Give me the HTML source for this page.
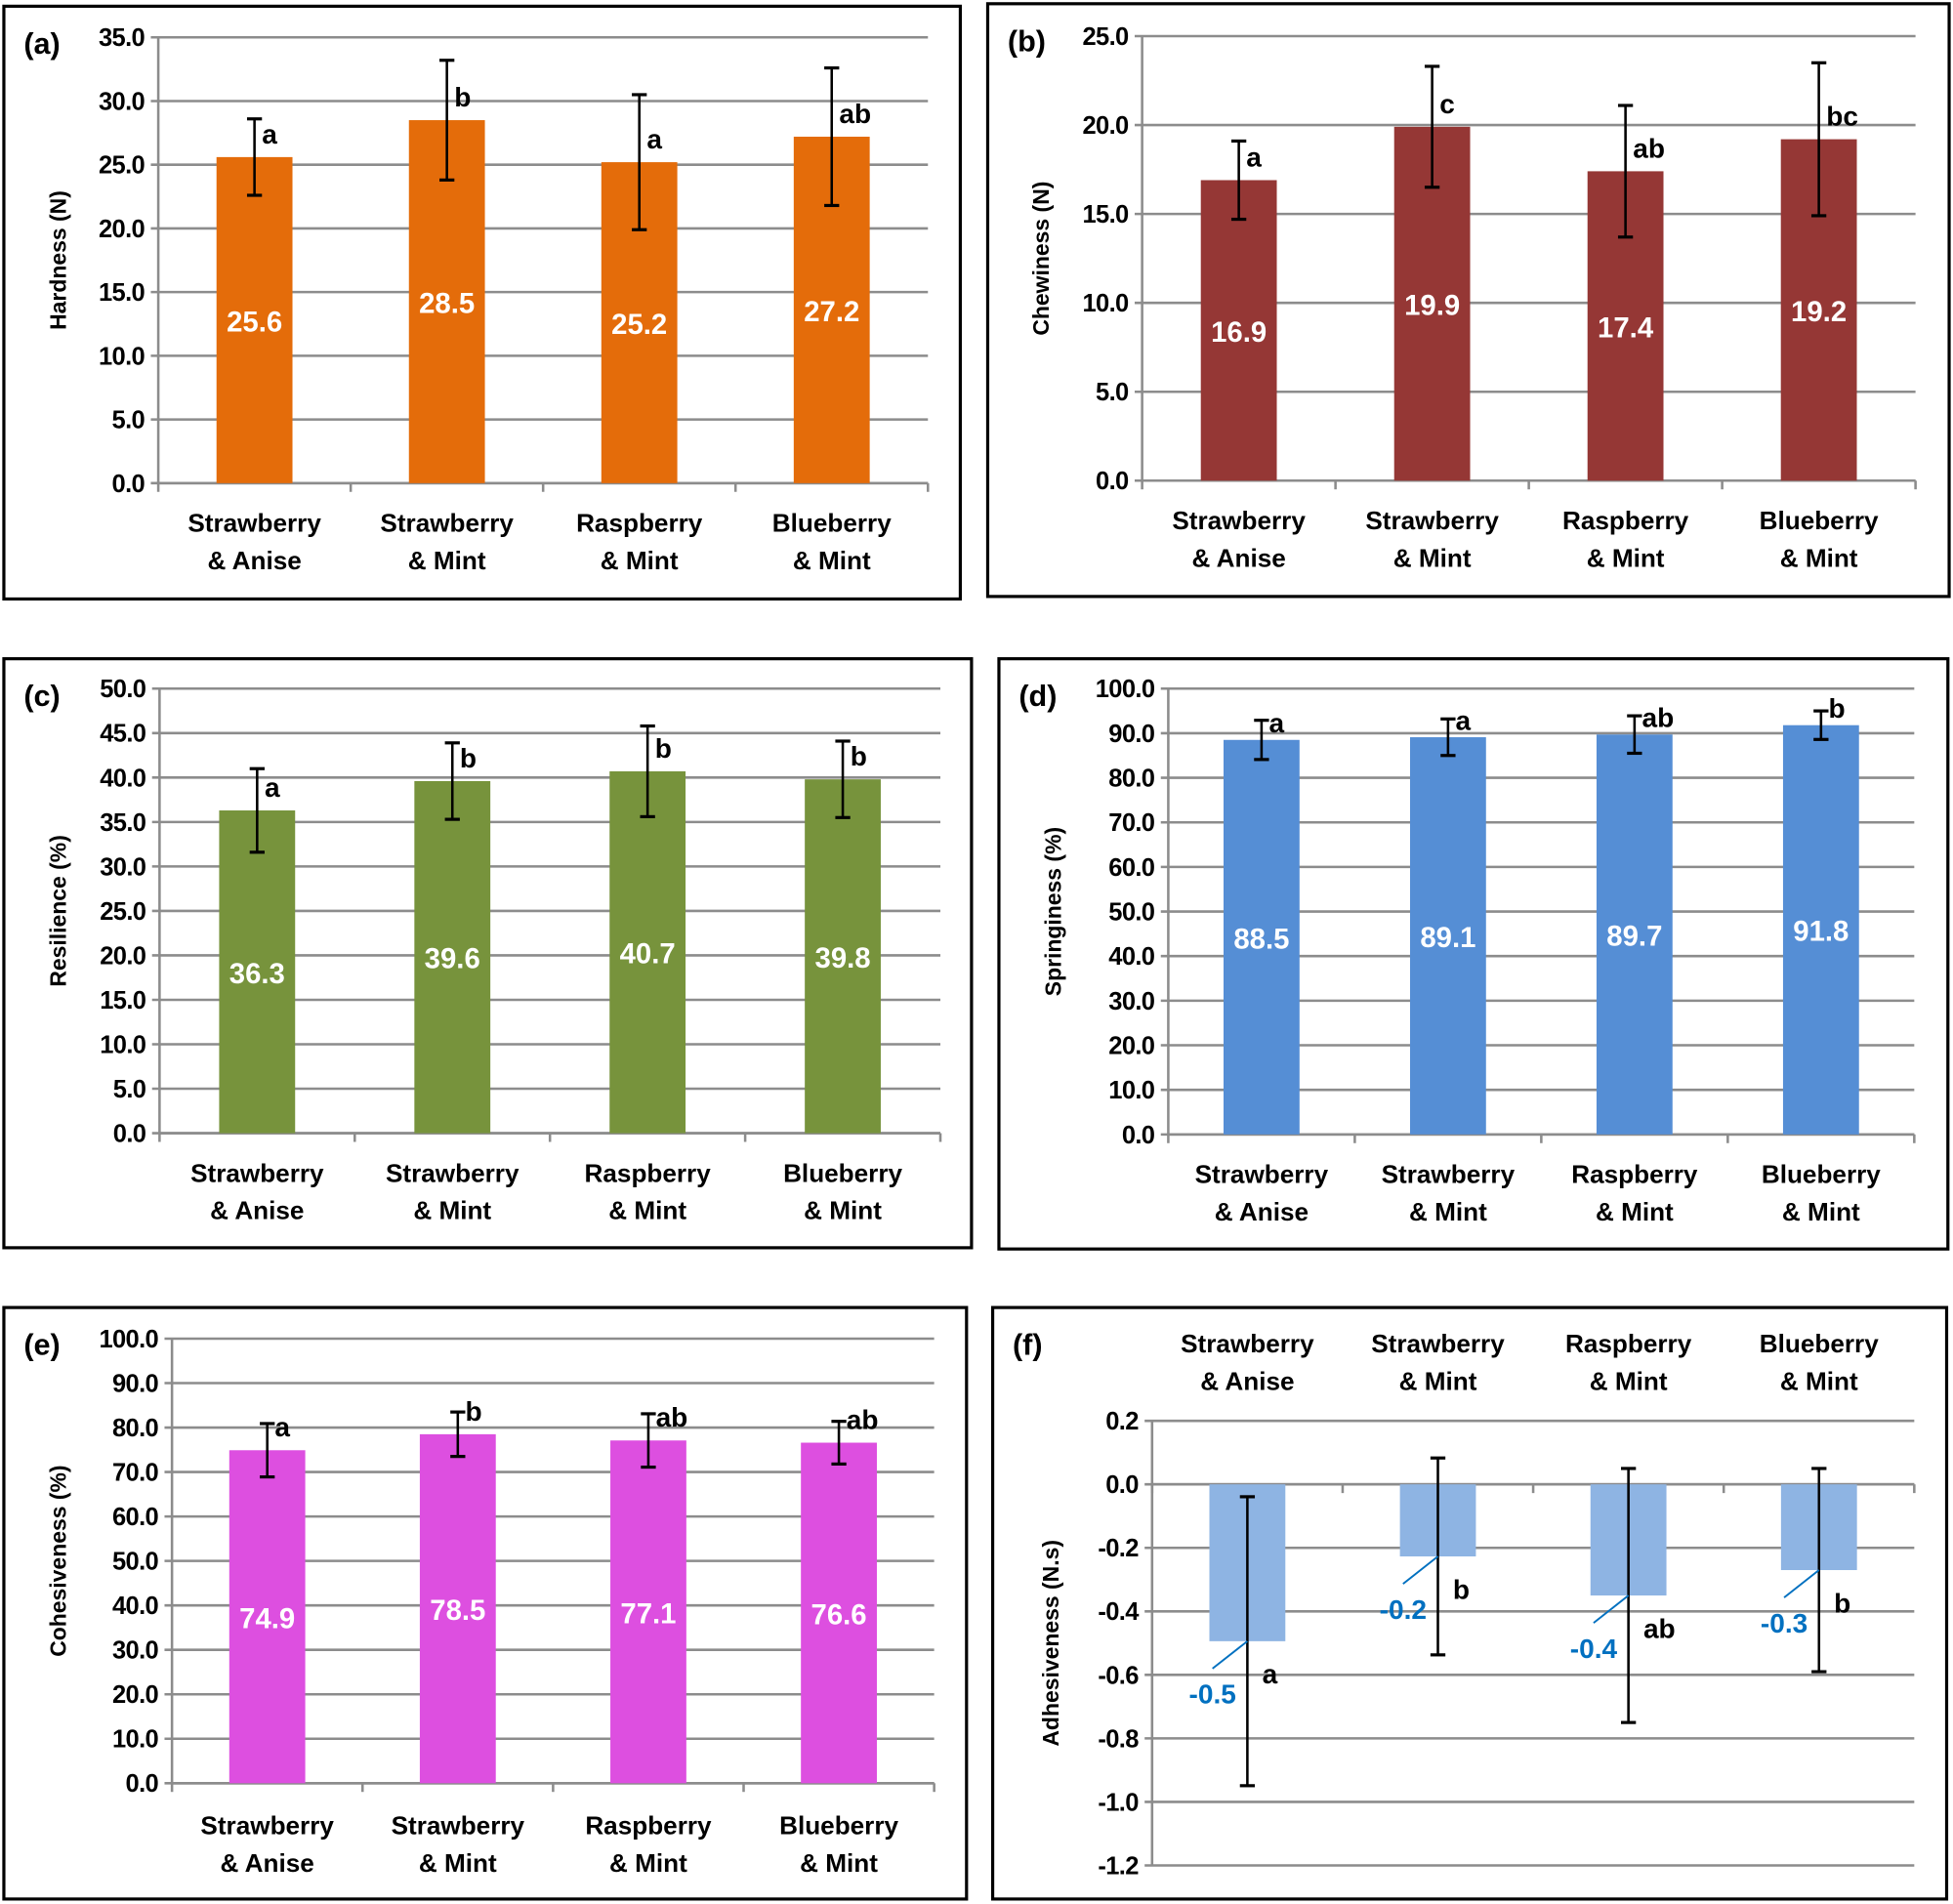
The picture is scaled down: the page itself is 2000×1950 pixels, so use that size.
<!DOCTYPE html>
<html><head><meta charset="utf-8"><style>
html,body{margin:0;padding:0;background:#fff}
svg{display:block}
text{font-family:"Liberation Sans",sans-serif;font-weight:bold}
</style></head><body>
<svg id="fig" width="2000" height="1950" viewBox="0 0 1568 1529" xmlns="http://www.w3.org/2000/svg"></svg>
<script>
const categories = [["Strawberry","& Anise"],["Strawberry","& Mint"],["Raspberry","& Mint"],["Blueberry","& Mint"]];
const hardnessValues = [25.6, 28.5, 25.2, 27.2];
const hardnessErrors = [3.0, 4.7, 5.3, 5.4];
const hardnessLetters = ["a","b","a","ab"];
const hardnessTicks = ["0.0","5.0","10.0","15.0","20.0","25.0","30.0","35.0"];
const chewValues = [16.9, 19.9, 17.4, 19.2];
const chewErrors = [2.2, 3.4, 3.7, 4.3];
const chewLetters = ["a","c","ab","bc"];
const chewTicks = ["0.0","5.0","10.0","15.0","20.0","25.0"];
const resValues = [36.3, 39.6, 40.7, 39.8];
const resErrors = [4.7, 4.3, 5.1, 4.3];
const resLetters = ["a","b","b","b"];
const resTicks = ["0.0","5.0","10.0","15.0","20.0","25.0","30.0","35.0","40.0","45.0","50.0"];
const sprValues = [88.5, 89.1, 89.7, 91.8];
const sprErrors = [4.4, 4.1, 4.2, 3.2];
const sprLetters = ["a","a","ab","b"];
const sprTicks = ["0.0","10.0","20.0","30.0","40.0","50.0","60.0","70.0","80.0","90.0","100.0"];
const cohValues = [74.9, 78.5, 77.1, 76.6];
const cohErrors = [6.0, 5.0, 6.0, 4.8];
const cohLetters = ["a","b","ab","ab"];
const cohTicks = ["0.0","10.0","20.0","30.0","40.0","50.0","60.0","70.0","80.0","90.0","100.0"];
const adhValues = [-0.494, -0.227, -0.35, -0.27];
const adhErrors = [0.455, 0.31, 0.40, 0.32];
const adhLetters = ["a","b","ab","b"];
const adhLabels = ["-0.5","-0.2","-0.4","-0.3"];
const adhTicks = ["-1.2","-1.0","-0.8","-0.6","-0.4","-0.2","0.0","0.2"];

const NS="http://www.w3.org/2000/svg";
const svg=document.getElementById('fig');
function mk(tag,attrs,parent,txt){const e=document.createElementNS(NS,tag);for(const k in attrs)e.setAttribute(k,attrs[k]);if(txt!==undefined)e.textContent=txt;(parent||svg).appendChild(e);return e;}

function panel(p){
  const g=mk('g',{});
  
  
  const fr=mk('rect',{x:p.box[0],y:p.box[1],width:p.box[2]-p.box[0],height:p.box[3]-p.box[1],fill:'#fff',stroke:'#000','stroke-width':2.5},g);
  
  
  const min=parseFloat(p.ticks[0]), max=parseFloat(p.ticks[p.ticks.length-1]);
  const y=v=>p.y0+(p.y1-p.y0)*(v-min)/(max-min);
  const bw=(p.right-p.left)/4;
  const x=i=>p.left+bw*(i+0.5);
  p.ticks.forEach(t=>{const v=parseFloat(t);
    mk('line',{x1:p.left-6,x2:p.right,y1:y(v),y2:y(v),stroke:'#8c8c8c','stroke-width':2},g);
    const tl=mk('text',{x:p.left-11,y:y(v)+7,'text-anchor':'end','font-size':20,'letter-spacing':-0.5},g,t);
    
    
  });
  const base=p.neg?y(0):p.y0;
  mk('line',{x1:p.left,x2:p.left,y1:p.y0,y2:p.y1,stroke:'#8c8c8c','stroke-width':2},g);
  mk('line',{x1:p.left,x2:p.right,y1:base,y2:base,stroke:'#8c8c8c','stroke-width':2},g);
  for(let i=0;i<=4;i++)mk('line',{x1:p.left+bw*i,x2:p.left+bw*i,y1:base,y2:base+7,stroke:'#8c8c8c','stroke-width':2},g);
  const bwid=p.barW||61;
  p.values.forEach((v,i)=>{
    const yt=y(Math.max(v,0)), yb=y(Math.min(v,0));
    const b=mk('rect',{x:x(i)-bwid/2,y:yt,width:bwid,height:yb-yt,fill:p.color},g);
    
    
    const e=p.errors[i], ya=y(v+e), yz=y(v-e);
    mk('line',{x1:x(i),x2:x(i),y1:ya,y2:yz,stroke:'#000','stroke-width':2},g);
    mk('line',{x1:x(i)-6,x2:x(i)+6,y1:ya,y2:ya,stroke:'#000','stroke-width':2.5},g);
    mk('line',{x1:x(i)-6,x2:x(i)+6,y1:yz,y2:yz,stroke:'#000','stroke-width':2.5},g);
    if(!p.neg){
      const lt=mk('text',{x:x(i)+6,y:yt-(p.letOff||11),'font-size':22},g,p.letters[i]);
      
      
      const vl=mk('text',{x:x(i),y:y(v/2)+9,'text-anchor':'middle','font-size':23,fill:'#fff'},g,v.toFixed(1));
      
      
    } else {
      const lt=mk('text',{x:x(i)+12,y:y(v)+34,'font-size':22},g,p.letters[i]);
      
      
      mk('line',{x1:x(i),y1:y(v),x2:x(i)-28,y2:y(v)+22,stroke:'#0070c0','stroke-width':1.5},g);
      const vl=mk('text',{x:x(i)-28,y:y(v)+50,'text-anchor':'middle','font-size':22,fill:'#0070c0'},g,p.labels[i]);
      
      
    }
    categories[i].forEach((s,k)=>{
      const ct=mk('text',{x:x(i),y:p.catY+30*k,'text-anchor':'middle','font-size':20.5},g,s);
      
      
    });
  });
  const ax=mk('text',{transform:`translate(${p.titleX},${(p.y0+p.y1)/2}) rotate(-90)`,'text-anchor':'middle','font-size':18},g,p.title);
  
  
  const pl=mk('text',{x:p.box[0]+16,y:p.box[1]+38,'font-size':24},g,'('+p.id+')');
  
  
}
panel({id:'a',box:[3,5,771,481],left:127,right:745,y0:388,y1:30,ticks:hardnessTicks,values:hardnessValues,errors:hardnessErrors,letters:hardnessLetters,color:'#e46c0a',title:'Hardness (N)',titleX:53,catY:427});
panel({id:'b',box:[793,3,1565,479],left:917,right:1538,y0:386,y1:29,ticks:chewTicks,values:chewValues,errors:chewErrors,letters:chewLetters,color:'#953735',title:'Chewiness (N)',titleX:842,catY:425});
panel({id:'c',box:[3,529,780,1002],left:128,right:755,y0:910,y1:553,ticks:resTicks,values:resValues,errors:resErrors,letters:resLetters,color:'#77933c',title:'Resilience (%)',titleX:53,catY:949});
panel({id:'d',box:[802,529,1564,1003],left:938,right:1537,y0:911,y1:553,ticks:sprTicks,values:sprValues,errors:sprErrors,letters:sprLetters,color:'#558ed5',title:'Springiness (%)',titleX:852,catY:950,letOff:6});
panel({id:'e',box:[3,1050,776,1525],left:138,right:750,y0:1432,y1:1075,ticks:cohTicks,values:cohValues,errors:cohErrors,letters:cohLetters,color:'#dd4fe0',title:'Cohesiveness (%)',titleX:53,catY:1473});
panel({id:'f',box:[797,1050,1563,1525],left:925,right:1537,y0:1498,y1:1141,ticks:adhTicks,values:adhValues,errors:adhErrors,letters:adhLetters,labels:adhLabels,color:'#8eb4e3',title:'Adhesiveness (N.s)',titleX:850,catY:1086,neg:true});
</script>
</body></html>
